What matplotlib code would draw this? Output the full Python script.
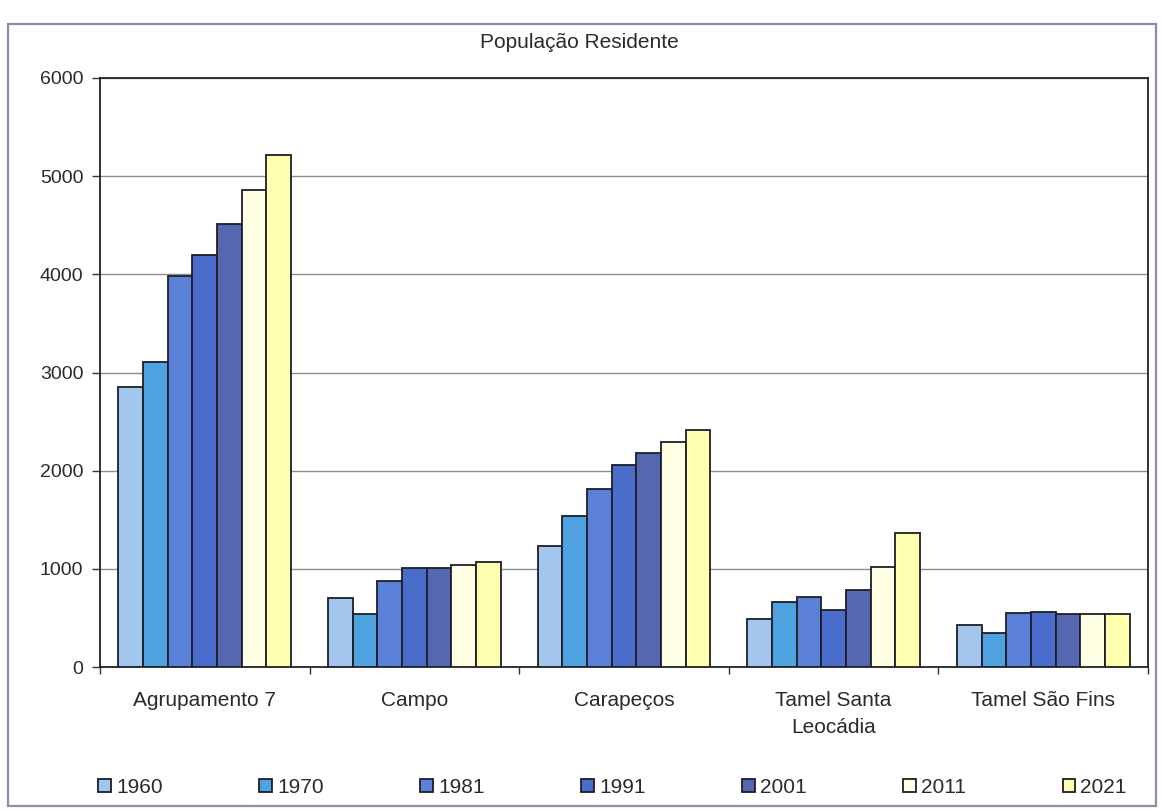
import matplotlib
matplotlib.use("Agg")
import matplotlib.pyplot as plt
import numpy as np
from matplotlib.patches import Rectangle

plt.rcParams['font.family'] = ['Liberation Sans', 'DejaVu Sans']

categories = ["Agrupamento 7", "Campo", "Carapeços", "Tamel Santa\nLeocádia", "Tamel São Fins"]
years = ["1960", "1970", "1981", "1991", "2001", "2011", "2021"]
v1960 = [2850, 700, 1230, 490, 430]
v1970 = [3110, 540, 1540, 660, 350]
v1981 = [3980, 880, 1810, 710, 555]
v1991 = [4195, 1010, 2060, 580, 560]
v2001 = [4515, 1010, 2180, 780, 540]
v2011 = [4860, 1040, 2290, 1020, 540]
v2021 = [5220, 1070, 2415, 1370, 540]
series = [v1960, v1970, v1981, v1991, v2001, v2011, v2021]
colors = ["#A3C6EE", "#4FA2E0", "#5B80D8", "#4A6DCC", "#5567B0", "#FFFFE4", "#FFFFB0"]
yticks = [0, 1000, 2000, 3000, 4000, 5000, 6000]

W, H = 1162, 811
fig = plt.figure(figsize=(W / 100, H / 100), dpi=100)
fig.patch.set_facecolor("white")

# outer frame
fig.add_artist(Rectangle((8 / W, 1 - 806 / H), (1156 - 8) / W, (806 - 24) / H,
                         transform=fig.transFigure, fill=False,
                         edgecolor="#8A8FA8", linewidth=1.6))

ax = fig.add_axes([100 / W, 1 - 667 / H, (1148 - 100) / W, (667 - 78) / H])
x = np.arange(len(categories))
n = len(series)
w = 1 / (n + 1.5)
for i, (vals, c, yr) in enumerate(zip(series, colors, years)):
    ax.bar(x + (i - (n - 1) / 2) * w, vals, width=w, color=c,
           edgecolor="#1E1E28", linewidth=1.3, label=yr, zorder=3)

ax.set_xlim(-0.5, len(categories) - 0.5)
ax.set_ylim(0, 6000)
ax.set_yticks(yticks)
ax.set_yticklabels([str(t) for t in yticks], fontsize=14, color="#2A2A2A")
ax.yaxis.grid(True, color="#8C8C8C", linewidth=1.0, zorder=0)
ax.set_axisbelow(True)

ax.set_xticks(np.arange(len(categories) + 1) - 0.5)
ax.set_xticklabels([])
ax.set_xticks(x, minor=True)
ax.set_xticklabels(categories, minor=True, fontsize=15, color="#2A2A2A", linespacing=1.55)
ax.tick_params(axis="x", which="minor", length=0, pad=17)
ax.tick_params(axis="x", which="major", length=5, width=1, color="#333333")
ax.tick_params(axis="y", length=6, width=1, color="#333333", pad=6)

for s in ax.spines.values():
    s.set_color("#222222")
    s.set_linewidth(1.3)

fig.text(579 / W, 1 - 42 / H, "População Residente", ha="center", va="center",
         fontsize=15, color="#2A2A2A")

handles, labels = ax.get_legend_handles_labels()
leg = fig.legend(handles, labels, ncol=7, loc="lower left",
                 bbox_to_anchor=(90 / W, 6 / H, (1135 - 90) / W, 40 / H),
                 mode="expand", frameon=False, fontsize=15,
                 handlelength=0.6, handleheight=0.6, handletextpad=0.25,
                 borderaxespad=0)
for t in leg.get_texts():
    t.set_color("#2A2A2A")

fig.savefig("out.png", dpi=100)
